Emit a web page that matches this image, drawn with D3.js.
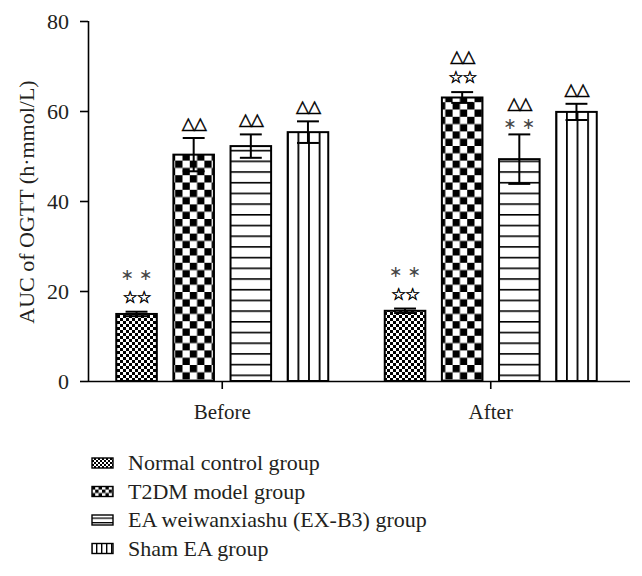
<!DOCTYPE html>
<html><head><meta charset="utf-8">
<script src="https://cdn.jsdelivr.net/npm/d3@7"></script>
<style>body{margin:0;background:#fff}svg{display:block}</style>
</head><body>
<svg id="c" width="642" height="576"></svg>
<script>
const groups = ["Before", "After"];
const series = ["Normal control group", "T2DM model group", "EA weiwanxiashu (EX-B3) group", "Sham EA group"];
const means = {
  "Before": [14.9, 50.3, 52.2, 55.3],
  "After":  [15.6, 63.0, 49.3, 59.8]
};
const errors = {
  "Before": [0.5, 3.7, 2.6, 2.4],
  "After":  [0.5, 1.2, 5.5, 1.8]
};
// annotations per bar, listed from bottom (closest to bar) to top
const marks = {
  "Before": [["☆☆", "∗ ∗"], ["△△"], ["△△"], ["△△"]],
  "After":  [["☆☆", "∗ ∗"], ["☆☆", "△△"], ["∗ ∗", "△△"], ["△△"]]
};
const yTicks = [0, 20, 40, 60, 80];

const svg = d3.select("#c");
const serif = "'Liberation Serif', 'Times New Roman', serif";
const textCol = "#231f20";
const y = d3.scaleLinear().domain([0, 80]).range([381, 21]);
const x0 = d3.scaleBand().domain(groups).range([88, 625]);
const x1 = d3.scaleBand().domain(series).range([-106, 106]).paddingInner(0.29);

// patterns
const defs = svg.append("defs");
function checker(id, s) {
  const p = defs.append("pattern").attr("id", id).attr("patternUnits", "userSpaceOnUse")
    .attr("width", 2 * s).attr("height", 2 * s);
  p.append("rect").attr("width", 2 * s).attr("height", 2 * s).attr("fill", "#fff");
  p.append("rect").attr("width", s).attr("height", s).attr("fill", "#000");
  p.append("rect").attr("x", s).attr("y", s).attr("width", s).attr("height", s).attr("fill", "#000");
}
checker("pNormal", 3);
checker("pT2DM", 7.3);
checker("pNormalL", 2);
checker("pT2DML", 3.4);
function hlines(id, s, w) {
  const p = defs.append("pattern").attr("id", id).attr("patternUnits", "userSpaceOnUse")
    .attr("width", 10).attr("height", s);
  p.append("rect").attr("width", 10).attr("height", s).attr("fill", "#fff");
  p.append("rect").attr("y", 0).attr("width", 10).attr("height", w).attr("fill", "#000");
}
function vlines(id, s, w, xoff) {
  const p = defs.append("pattern").attr("id", id).attr("patternUnits", "userSpaceOnUse")
    .attr("width", s).attr("height", 10).attr("x", xoff);
  p.append("rect").attr("width", s).attr("height", 10).attr("fill", "#fff");
  p.append("rect").attr("x", 0).attr("width", w).attr("height", 10).attr("fill", "#000");
}
hlines("pEA", 10.7, 1.6);
hlines("pEAL", 4.5, 1.3);

const fills = ["url(#pNormal)", "url(#pT2DM)", "url(#pEA)", null];
const bars = [];
groups.forEach(g => series.forEach((s, i) => {
  bars.push({g, s, i, v: means[g][i], e: errors[g][i], m: marks[g][i]});
}));

bars.forEach((d, k) => {
  const bx = x0(d.g) + x0.bandwidth() / 2 + x1(d.s);
  d.x = bx; d.w = x1.bandwidth();
  let fill = fills[d.i];
  if (d.i === 3) { vlines("pSham" + k, 10.6, 1.8, bx - 0.5 + 10.3); fill = "url(#pSham" + k + ")"; }
  d.fill = fill;
});

const gb = svg.append("g");
gb.selectAll("rect.bar").data(bars).join("rect").attr("class", "bar")
  .attr("x", d => d.x).attr("width", d => d.w)
  .attr("y", d => y(d.v)).attr("height", d => y(0) - y(d.v))
  .attr("fill", d => d.fill).attr("stroke", "#000").attr("stroke-width", 2);

// error bars
const ge = svg.append("g").attr("stroke", "#000").attr("stroke-width", 2);
bars.forEach(d => {
  const cx = d.x + d.w / 2, cw = d.w * 0.27;
  ge.append("line").attr("x1", cx).attr("x2", cx).attr("y1", y(d.v - d.e)).attr("y2", y(d.v + d.e));
  ge.append("line").attr("x1", cx - cw).attr("x2", cx + cw).attr("y1", y(d.v + d.e)).attr("y2", y(d.v + d.e));
  ge.append("line").attr("x1", cx - cw).attr("x2", cx + cw).attr("y1", y(d.v - d.e)).attr("y2", y(d.v - d.e));
});

// annotations
const ga = svg.append("g");
bars.forEach(d => {
  const cx = d.x + d.w / 2;
  const top = y(d.v + d.e);
  let c = null;
  d.m.forEach((t, j) => {
    const isAst = t === "∗ ∗";
    if (c === null) c = top - (isAst ? 10 : 15);
    else c -= 21.5;
    if (isAst) {
      ga.append("text").attr("x", cx).attr("y", c + 5)
        .attr("text-anchor", "middle").attr("font-family", "'DejaVu Sans', sans-serif")
        .attr("font-size", 16).attr("fill", "#444").text(t);
    } else {
      ga.append("text").attr("x", cx).attr("y", c + 6)
        .attr("text-anchor", "middle").attr("font-family", "'DejaVu Sans', sans-serif")
        .attr("font-size", 17).attr("letter-spacing", -1.2)
        .attr("fill", "#000").attr("stroke", "#000").attr("stroke-width", 0.5).text(t);
    }
  });
});

// axes
const yAxis = svg.append("g").attr("transform", "translate(88,0)")
  .call(d3.axisLeft(y).tickValues(yTicks).tickSize(8).tickPadding(11));
const xAxis = svg.append("g").attr("transform", "translate(0,381)")
  .call(d3.axisBottom(x0).tickSize(8).tickPadding(15));
[yAxis, xAxis].forEach(a => {
  a.select(".domain").attr("stroke", "#000").attr("stroke-width", 1.6);
  a.selectAll(".tick line").attr("stroke", "#000").attr("stroke-width", 1.6);
  a.selectAll(".tick text").attr("font-family", serif).attr("font-size", 21).attr("fill", textCol);
});
yAxis.selectAll(".tick text").attr("font-size", 22);
xAxis.select(".domain").attr("d", "M88,0.5H630");
yAxis.select(".domain").attr("d", "M0.5,21V381.5");

svg.append("text").attr("transform", "translate(34,202) rotate(-90)")
  .attr("text-anchor", "middle").attr("font-family", serif).attr("font-size", 22).attr("fill", textCol)
  .text("AUC of OGTT (h·mmol/L)");

// legend
const lfills = ["url(#pNormalL)", "url(#pT2DML)", "url(#pEAL)", null];
const lg = svg.append("g");
series.forEach((s, i) => {
  const cy = 463 + i * 28.5;
  if (i === 3) {
    const p = defs.append("pattern").attr("id", "pShamL").attr("patternUnits", "userSpaceOnUse")
      .attr("width", 5).attr("height", 10).attr("x", 92 + 4);
    p.append("rect").attr("width", 5).attr("height", 10).attr("fill", "#fff");
    p.append("rect").attr("width", 1.4).attr("height", 10).attr("fill", "#000");
    lfills[3] = "url(#pShamL)";
  }
  lg.append("rect").attr("x", 92).attr("y", cy - 5).attr("width", 21).attr("height", 10)
    .attr("fill", lfills[i]).attr("stroke", "#000").attr("stroke-width", 1.4);
  lg.append("text").attr("x", 128).attr("y", cy + 7).attr("font-family", serif)
    .attr("font-size", 22).attr("fill", textCol).text(s);
});
</script>
</body></html>
